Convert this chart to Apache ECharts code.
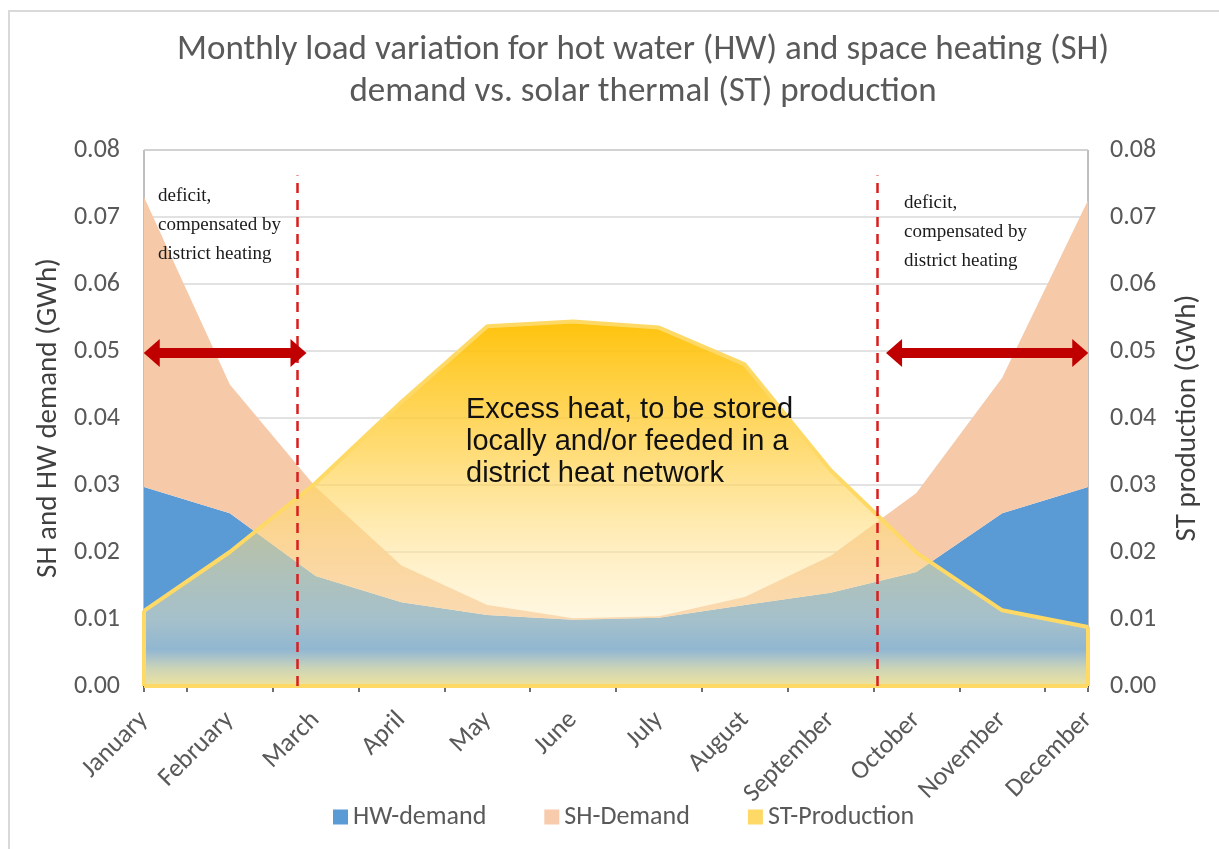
<!DOCTYPE html>
<html>
<head>
<meta charset="utf-8">
<script src="https://cdn.jsdelivr.net/npm/echarts@6/dist/echarts.min.js"></script>
<style>
  html, body { margin: 0; padding: 0; background: #fff; }
  #chart { width: 1219px; height: 849px; }
</style>
</head>
<body>
<div id="chart"></div>
<script>
// months on the category axis
const months = ['January', 'February', 'March', 'April', 'May', 'June', 'July',
  'August', 'September', 'October', 'November', 'December'];

// hot water demand (GWh)
const hwDemand = [0.0297, 0.0258, 0.0164, 0.0125, 0.0106, 0.0099, 0.0102, 0.0121, 0.0139, 0.0170, 0.0258, 0.0297];
// space heating demand, stacked on top of hot water (GWh)
const shDemand = [0.0433, 0.0192, 0.0133, 0.0055, 0.0015, 0.0002, 0.0002, 0.0012, 0.0055, 0.0118, 0.0202, 0.0428];
// solar thermal production (GWh)
const stProduction = [0.0112, 0.0200, 0.0303, 0.0424, 0.0537, 0.0544, 0.0535, 0.0480, 0.0322, 0.0199, 0.0113, 0.0088];

// tick positions between the months (month index units)
const xTicks = [0, 0.5, 1.5, 2.5, 3.5, 4.5, 5.5, 6.5, 7.5, 8.5, 9.5, 10.5, 11];

// annotations (month index positions, GWh)
const deficitBounds = [1.79, 8.55];
const dashTop = 0.0762;
const arrowLevel = 0.0497;
const arrowSpans = [[0.09, 1.80], [8.74, 10.91]];

const chart = echarts.init(document.getElementById('chart'));

const sansFont = 'Carlito, Lato, sans-serif';
const grey = '#595959';
const arrowHead = 'path://M5,0L10,8L0,8Z';

const option = {
  backgroundColor: '#fff',
  animation: false,
  title: {
    text: 'Monthly load variation for hot water (HW) and space heating (SH)\ndemand vs. solar thermal (ST) production',
    left: 638,
    textAlign: 'center',
    top: 24,
    textStyle: { fontFamily: sansFont, fontSize: 35, fontWeight: 'normal', color: grey, lineHeight: 42 }
  },
  legend: {
    data: ['HW-demand', 'SH-Demand', 'ST-Production'],
    bottom: 14,
    left: 328,
    itemWidth: 15,
    itemHeight: 15,
    itemGap: 58,
    icon: 'rect',
    textStyle: { fontFamily: sansFont, fontSize: 26, color: grey }
  },
  grid: {
    left: 144, right: 131, top: 150, bottom: 163,
    show: true, borderColor: '#7f7f7f', borderWidth: 1
  },
  xAxis: [
    {
      type: 'category',
      position: 'bottom',
      data: months,
      boundaryGap: false,
      axisLine: { show: false },
      axisTick: { show: false },
      splitLine: { show: false },
      axisLabel: {
        rotate: 45, margin: 30, interval: 0,
        fontFamily: sansFont, fontSize: 26, color: grey
      }
    },
    {
      type: 'value',
      position: 'bottom',
      min: 0, max: 11, interval: 1,
      axisLine: { show: true, lineStyle: { color: '#404040', width: 2 } },
      axisTick: { show: true, length: 6, customValues: xTicks, lineStyle: { color: '#404040', width: 1.5 } },
      axisLabel: { show: false },
      splitLine: { show: false }
    }
  ],
  yAxis: [
    {
      type: 'value', min: 0, max: 0.08, interval: 0.01,
      name: 'SH and HW demand (GWh)',
      nameLocation: 'middle', nameGap: 81, nameRotate: 90,
      nameTextStyle: { fontFamily: sansFont, fontSize: 29, color: '#404040' },
      axisLine: { show: false }, axisTick: { show: false },
      axisLabel: { fontFamily: sansFont, fontSize: 26, color: grey, margin: 24, formatter: v => v.toFixed(2) },
      splitLine: { lineStyle: { color: '#d9d9d9', width: 1.5 } }
    },
    {
      type: 'value', min: 0, max: 0.08, interval: 0.01,
      name: 'ST production (GWh)',
      nameLocation: 'middle', nameGap: 85, nameRotate: 90,
      nameTextStyle: { fontFamily: sansFont, fontSize: 29, color: '#404040' },
      axisLine: { show: false }, axisTick: { show: false },
      axisLabel: { fontFamily: sansFont, fontSize: 26, color: grey, margin: 22, formatter: v => v.toFixed(2) },
      splitLine: { show: false }
    }
  ],
  series: [
    {
      name: 'HW-demand',
      type: 'line',
      stack: 'demand',
      data: hwDemand,
      symbol: 'none',
      lineStyle: { width: 0 },
      itemStyle: { color: '#5b9bd5' },
      areaStyle: { color: '#5b9bd5', opacity: 1 },
      z: 2
    },
    {
      name: 'SH-Demand',
      type: 'line',
      stack: 'demand',
      data: shDemand,
      symbol: 'none',
      lineStyle: { width: 0 },
      itemStyle: { color: '#f8cbad' },
      areaStyle: { color: '#f6c9a9', opacity: 1 },
      z: 2
    },
    {
      name: 'ST-Production',
      type: 'line',
      yAxisIndex: 1,
      data: stProduction,
      symbol: 'none',
      lineStyle: { width: 4, color: '#ffd966' },
      itemStyle: { color: '#ffd966' },
      areaStyle: {
        opacity: 1,
        color: new echarts.graphic.LinearGradient(0, 0, 0, 1, [
          { offset: 0, color: 'rgba(255,192,0,0.95)' },
          { offset: 0.35, color: 'rgba(255,208,70,0.75)' },
          { offset: 0.62, color: 'rgba(255,224,140,0.55)' },
          { offset: 0.82, color: 'rgba(255,238,190,0.45)' },
          { offset: 0.9, color: 'rgba(245,235,200,0.35)' },
          { offset: 0.95, color: 'rgba(250,235,170,0.7)' },
          { offset: 1, color: 'rgba(255,235,150,0.9)' }
        ])
      },
      markLine: {
        silent: true,
        symbol: 'none',
        label: { show: false },
        lineStyle: { color: '#ffd966', width: 4, type: 'solid' },
        data: [
          [{ coord: [0, 0] }, { coord: [0, stProduction[0]] }],
          [{ coord: [11, 0] }, { coord: [11, stProduction[11]] }],
          [{ coord: [0, 0] }, { coord: [11, 0] }]
        ]
      },
      z: 3
    },
    {
      name: 'annotations',
      type: 'line',
      xAxisIndex: 1,
      data: [],
      markLine: {
        silent: true,
        symbol: 'none',
        label: { show: false },
        data: [
          ...deficitBounds.map(x => [
            { coord: [x, 0], lineStyle: { color: '#d81e1e', width: 2.5, type: [10, 7] } },
            { coord: [x, dashTop] }
          ]),
          ...arrowSpans.map(([a, b]) => [
            {
              coord: [a, arrowLevel],
              symbol: arrowHead,
              symbolSize: [28, 16],
              lineStyle: { color: '#c00000', width: 10, type: 'solid' },
              itemStyle: { color: '#c00000' }
            },
            { coord: [b, arrowLevel], symbol: arrowHead, symbolSize: [28, 16], itemStyle: { color: '#c00000' } }
          ])
        ]
      },
      z: 5
    }
  ],
  graphic: [
    {
      type: 'rect',
      shape: { x: 9, y: 11, width: 1300, height: 1000 },
      style: { fill: 'none', stroke: '#d9d9d9', lineWidth: 2 },
      silent: true, z: -10
    },
    {
      type: 'text', left: 158, top: 182, z: 10,
      style: {
        text: 'deficit,\ncompensated by\ndistrict heating',
        font: '19px "Liberation Serif", serif', fill: '#1a1a1a', lineHeight: 29
      }
    },
    {
      type: 'text', left: 904, top: 189, z: 10,
      style: {
        text: 'deficit,\ncompensated by\ndistrict heating',
        font: '19px "Liberation Serif", serif', fill: '#1a1a1a', lineHeight: 29
      }
    },
    {
      type: 'text', left: 466, top: 394, z: 10,
      style: {
        text: 'Excess heat, to be stored\nlocally and/or feeded in a\ndistrict heat network',
        font: '29px "Liberation Sans", Arial, sans-serif', fill: '#111', lineHeight: 32
      }
    }
  ]
};

chart.setOption(option);
</script>
</body>
</html>
